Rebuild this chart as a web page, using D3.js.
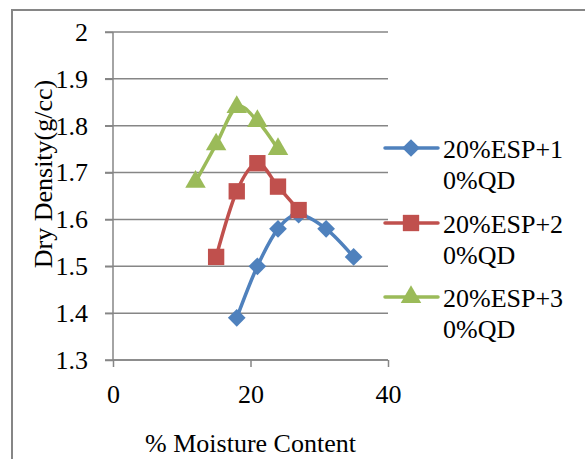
<!DOCTYPE html>
<html><head><meta charset="utf-8">
<script src="https://cdn.jsdelivr.net/npm/d3@7"></script>
<style>body{margin:0;background:#fff}svg{display:block}svg text{font-family:"Liberation Serif","Times New Roman",serif !important;fill:#000}</style>
</head><body><svg id="c" width="585" height="459"></svg>
<script>
const seriesNames = ["20%ESP+10%QD", "20%ESP+20%QD", "20%ESP+30%QD"];
const legendLines = [["20%ESP+1", "0%QD"], ["20%ESP+2", "0%QD"], ["20%ESP+3", "0%QD"]];
const blueX = [18, 21, 24, 27, 31, 35];
const blueY = [1.39, 1.50, 1.58, 1.61, 1.58, 1.52];
const redX = [15, 18, 21, 24, 27];
const redY = [1.52, 1.66, 1.72, 1.67, 1.62];
const greenX = [12, 15, 18, 21, 24];
const greenY = [1.68, 1.76, 1.84, 1.81, 1.75];
const xTicks = [0, 20, 40];
const yTicks = [1.3, 1.4, 1.5, 1.6, 1.7, 1.8, 1.9, 2];
const xTitle = "% Moisture Content";
const yTitle = "Dry Density(g/cc)";

const colors = ["#4F81BD", "#C0504D", "#9BBB59"];
const symbols = [d3.symbolDiamond2, d3.symbolSquare2, d3.symbolTriangle2];
const symSizes = [200, 340, 300];
const FONT = "Liberation Serif, Times New Roman, serif";
const series = [
  blueX.map((x, i) => [x, blueY[i]]),
  redX.map((x, i) => [x, redY[i]]),
  greenX.map((x, i) => [x, greenY[i]])
];

const svg = d3.select("#c");
const grey = "#868686";
svg.append("rect").attr("x", 12).attr("y", 10).attr("width", 600).attr("height", 500)
  .attr("fill", "none").attr("stroke", grey).attr("stroke-width", 2);

const x = d3.scaleLinear().domain([0, 40]).range([113, 388]);
const y = d3.scaleLinear().domain([1.3, 2]).range([360, 32]);

svg.append("g").selectAll("line").data(yTicks).join("line")
  .attr("x1", 105).attr("x2", 388).attr("y1", d => y(d)).attr("y2", d => y(d))
  .attr("stroke", grey).attr("stroke-width", 1.5);

const ya = svg.append("g").attr("transform", "translate(113,0)")
  .call(d3.axisLeft(y).tickValues(yTicks).tickFormat(d3.format("")).tickSize(8).tickPadding(17));
ya.attr("font-family", FONT).attr("font-size", 26);
ya.select(".domain").attr("stroke", grey).attr("stroke-width", 1.5).attr("d", `M0,${y(2)}V${y(1.3)}`);
ya.selectAll(".tick line").attr("stroke", grey).attr("stroke-width", 1.5);
ya.selectAll("text").attr("font-family", FONT).attr("font-size", 26).attr("fill", "#000");

const xa = svg.append("g").attr("transform", `translate(0,${y(1.3)})`)
  .call(d3.axisBottom(x).tickValues(xTicks).tickSize(7).tickPadding(18));
xa.attr("font-family", FONT).attr("font-size", 26);
xa.select(".domain").attr("stroke", grey).attr("stroke-width", 1.5).attr("d", `M${x(0)},0H${x(40)}`);
xa.selectAll(".tick line").attr("stroke", grey).attr("stroke-width", 1.5);
xa.selectAll("text").attr("font-family", FONT).attr("font-size", 26).attr("fill", "#000");

svg.append("text").attr("x", x(20)).attr("y", 452).attr("text-anchor", "middle")
  .attr("font-family", FONT).attr("font-size", 26).text(xTitle);
svg.append("text").attr("transform", `translate(52,174) rotate(-90)`).attr("text-anchor", "middle")
  .attr("font-family", FONT).attr("font-size", 26).text(yTitle);

const line = d3.line().x(d => x(d[0])).y(d => y(d[1])).curve(d3.curveCatmullRom.alpha(0));
series.forEach((s, i) => {
  const g = svg.append("g");
  g.append("path").datum(s).attr("d", line).attr("fill", "none")
    .attr("stroke", colors[i]).attr("stroke-width", 3.5).attr("stroke-linejoin", "round");
  g.selectAll("path.m").data(s).join("path").attr("class", "m")
    .attr("transform", d => `translate(${x(d[0])},${y(d[1])})`)
    .attr("d", d3.symbol(symbols[i], symSizes[i])).attr("fill", colors[i]);
});

const legY = [148, 223, 297];
legendLines.forEach((ls, i) => {
  const g = svg.append("g");
  g.append("line").attr("x1", 385).attr("x2", 438).attr("y1", legY[i]).attr("y2", legY[i])
    .attr("stroke", colors[i]).attr("stroke-width", 3.5).attr("stroke-linecap", "round");
  g.append("path").attr("transform", `translate(411,${legY[i]})`)
    .attr("d", d3.symbol(symbols[i], symSizes[i])).attr("fill", colors[i]);
  ls.forEach((t, j) => {
    g.append("text").attr("x", 443).attr("y", legY[i] + 10 + j * 31)
      .attr("font-family", FONT).attr("font-size", 26).text(t);
  });
});
</script></body></html>
